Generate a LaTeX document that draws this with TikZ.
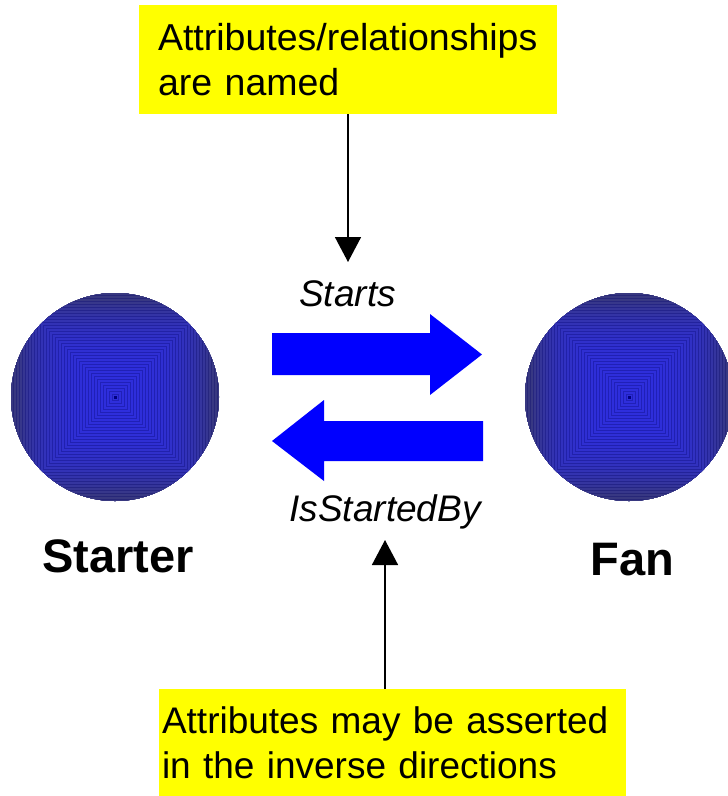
\documentclass[tikz,border=0pt]{standalone}
\usepackage{fontspec}
\setmainfont{Liberation Sans}
\usetikzlibrary{arrows.meta,calc}
\definecolor{navyc}{RGB}{56,56,128}
\definecolor{brightc}{RGB}{46,46,220}
\definecolor{yboxc}{RGB}{255,255,0}
\definecolor{arrblue}{RGB}{0,0,255}
\begin{document}
\begin{tikzpicture}[x=1pt,y=-1pt,
  ybox/.style={fill=yboxc, draw=none, rectangle, inner ysep=0pt, align=left,
    font=\fontsize{37.5}{45}\selectfont},
  ball/.style={circle, minimum size=208pt, inner sep=0pt,
    path picture={
      \foreach \h in {150,147,...,3}{
        \pgfmathsetmacro\pct{min(100,100*(\h/100)^3)}
        \filldraw[fill=navyc!\pct!brightc, draw=black!60!blue, draw opacity=0.3, line width=0.4pt]
          ([shift={(-\h pt,-\h pt)}]path picture bounding box.center) rectangle
          ([shift={(\h pt,\h pt)}]path picture bounding box.center);
      }
      \fill[black!50!blue] ([shift={(-1.5pt,-1.5pt)}]path picture bounding box.center) rectangle
          ([shift={(1.5pt,1.5pt)}]path picture bounding box.center);
    }},
  relname/.style={font=\fontsize{37}{44}\selectfont\itshape, anchor=base, inner sep=0pt},
  objname/.style={font=\fontsize{47}{56}\selectfont\bfseries, anchor=base, inner sep=0pt},
  ptr/.style={line width=1.6pt, -{Triangle[width=26pt,length=25pt]}},
  fatarrow/.style={fill=arrblue, draw=none}
]
\useasboundingbox (0,0) rectangle (728,796);

% yellow boxes
\node[ybox, minimum width=418pt, minimum height=109pt, inner xsep=19pt, text width=380pt]
  (topbox) at (348,59.5) {Attributes/relationships\\are named};
\node[ybox, minimum width=467pt, minimum height=107pt, inner xsep=3pt, text width=461pt,
  font=\fontsize{37}{45}\selectfont]
  (botbox) at (392.5,742.5) {Attributes may be asserted\\in the inverse directions};

% objects
\node[ball] (starter) at (115,397) {};
\node[ball] (fan) at (629,397) {};
\node[objname] (starterlbl) at (118,572) {Starter};
\node[objname] (fanlbl) at (632.5,575) {Fan};

% relation arrows
\fill[fatarrow] (272,333) -- (430,333) -- (430,314) -- (482,354.5) -- (430,395) -- (430,375) -- (272,375) -- cycle;
\fill[fatarrow] (483,421) -- (324,421) -- (324,400) -- (272,441) -- (324,481) -- (324,461) -- (483,461) -- cycle;

\node[relname] (starts) at (347.5,306) {Starts};
\node[relname] (isstarted) at (385,521) {IsStartedBy};

% pointers
\coordinate (tip1) at (348,262);
\coordinate (tip2) at (385,540);
\draw[ptr] (topbox.south) -- (tip1);
\draw[ptr] ([xshift=-7.5pt]botbox.north) -- (tip2);
\end{tikzpicture}
\end{document}
